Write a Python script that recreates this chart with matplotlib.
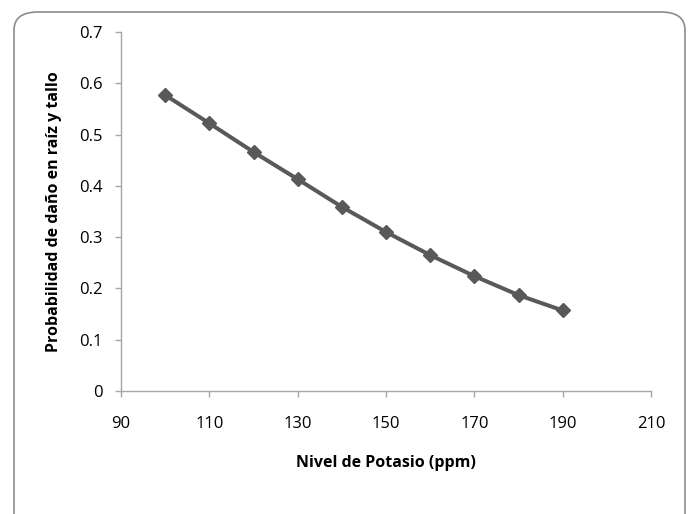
import matplotlib
matplotlib.use("Agg")
import matplotlib.pyplot as plt
from matplotlib.patches import FancyBboxPatch

potasio = [100, 110, 120, 130, 140, 150, 160, 170, 180, 190]
probabilidad = [0.577, 0.522, 0.466, 0.413, 0.359, 0.310, 0.265, 0.224, 0.187, 0.157]
xticks = [90, 110, 130, 150, 170, 190, 210]
yticks = [0, 0.1, 0.2, 0.3, 0.4, 0.5, 0.6, 0.7]
ytick_labels = ["0", "0.1", "0.2", "0.3", "0.4", "0.5", "0.6", "0.7"]

plt.rcParams['font.family'] = ['Open Sans', 'DejaVu Sans']

W, H = 689, 514
fig = plt.figure(figsize=(W/100, H/100), dpi=100)
frame = FancyBboxPatch((14/W, -0.05), (685-14)/W, (H-12)/H + 0.05,
                       boxstyle="round,pad=0,rounding_size=0.035",
                       transform=fig.transFigure, facecolor="none",
                       edgecolor="#8c8c8c", linewidth=1.2, zorder=-1)
fig.patches.append(frame)

ax = fig.add_axes([121/W, (H-391)/H, (651-121)/W, (391-32)/H])
ax.set_facecolor("none")
ax.plot(potasio, probabilidad, color="#595959", linewidth=2.9,
        marker="D", markersize=7.5, markerfacecolor="#595959",
        markeredgecolor="#595959", markeredgewidth=1.0)
ax.set_xlim(90, 210)
ax.set_ylim(0, 0.7)
ax.set_xticks(xticks)
ax.set_yticks(yticks)
ax.set_yticklabels(ytick_labels)
for s in ["top", "right"]:
    ax.spines[s].set_visible(False)
for s in ["left", "bottom"]:
    ax.spines[s].set_color("#a6a6a6")
    ax.spines[s].set_linewidth(1.0)
ax.tick_params(axis="both", colors="#a6a6a6", labelcolor="black", labelsize=12,
               direction="out", length=4.3, width=1.0)
ax.tick_params(axis="x", pad=13.5)
ax.tick_params(axis="y", pad=9)
ax.set_xlabel("Nivel de Potasio (ppm)", fontsize=11.5, fontweight="bold", labelpad=17)
ax.set_ylabel("Probabilidad de daño en raíz y tallo", fontsize=11.5, fontweight="bold", labelpad=12)

fig.savefig("out.png", dpi=100)
